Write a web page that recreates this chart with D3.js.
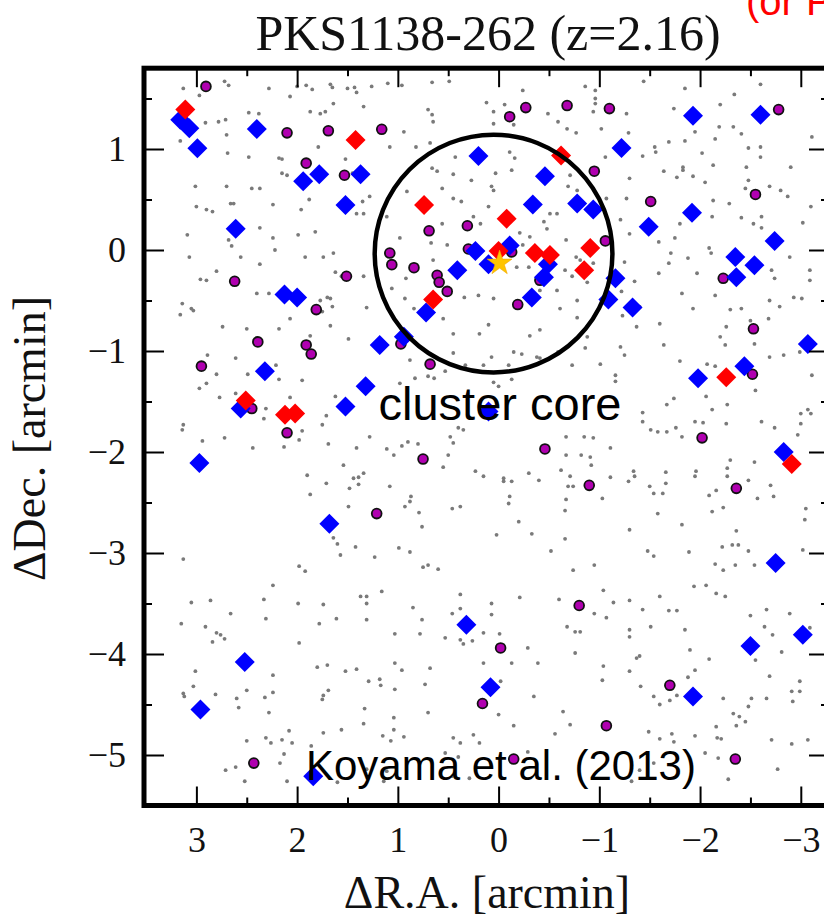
<!DOCTYPE html>
<html>
<head>
<meta charset="utf-8">
<script src="https://cdn.jsdelivr.net/npm/d3@7"></script>
<style>
  html, body { margin: 0; padding: 0; background: #fff; }
  svg { display: block; }
</style>
</head>
<body>
<svg id="chart" width="824" height="920"></svg>
<script>
// Offsets from the radio galaxy, [ΔR.A., ΔDec.] in arcmin.

// Faint field sources (small grey dots)
const fieldSources = [
  [3.13,1.60],[2.97,1.53],[2.72,1.67],[2.68,1.63],[2.28,1.60],[2.07,1.52],[2.00,1.62],[1.91,1.63],[1.85,1.59],[1.67,1.64],[1.65,1.61],[1.50,1.60],[1.43,1.61],[1.41,1.56],[1.26,1.62],[1.10,1.65],[0.96,1.63],[0.66,1.66],
  [1.87,1.37],[1.77,1.35],[1.72,1.37],[1.64,1.45],[1.34,1.42],[2.48,1.36],[2.38,1.35],[2.91,1.26],[2.78,1.27],[2.71,1.29],[2.70,1.14],[0.70,1.39],[0.66,1.34],[0.65,1.27],[0.94,1.17],
  [3.16,1.08],[2.69,0.96],[2.48,0.92],[2.18,0.91],[2.15,0.90],[1.79,1.02],[1.52,0.90],[1.08,1.02],[0.82,1.02],[0.68,1.06],
  [3.01,0.63],[2.70,0.63],[2.45,0.61],[2.37,0.61],[2.15,0.76],[2.10,0.74],[1.75,0.77],[1.45,0.76],[0.66,0.81],[0.61,0.78],
  [3.00,0.43],[2.90,0.40],[2.84,0.38],[2.66,0.46],[2.63,0.46],[2.24,0.45],[1.96,0.40],[1.88,0.50],[1.35,0.48],[1.28,0.53],[1.41,0.36],[1.34,0.36],[1.11,0.33],[0.91,0.58],
  [3.09,0.15],[2.68,0.10],[2.65,0.04],[2.37,0.22],[2.24,0.12],[2.22,0.00],[1.99,0.15],[1.82,0.18],[1.64,-0.03],[1.74,-0.07],[1.92,-0.07],[2.56,-0.07],[3.07,-0.07],[0.98,0.12],[0.67,0.07],
  [2.96,-0.29],[2.90,-0.30],[2.80,-0.21],[2.37,-0.14],[1.62,-0.22],[1.56,-0.26],[1.34,-0.26],[1.06,-0.38],[0.92,-0.28],[0.65,-0.10],
  [3.14,-0.53],[3.05,-0.58],[3.03,-0.60],[2.40,-0.43],[2.28,-0.43],[2.07,-0.68],[1.77,-0.50],[1.70,-0.47],[1.67,-0.48],[1.65,-0.56],[1.75,-0.61],[1.31,-0.57],[0.93,-0.48],[0.84,-0.58],[3.16,-0.64],[2.74,-0.76],[2.50,-0.78],[2.18,-0.78],[1.67,-0.75],[1.49,-0.88],[1.87,-0.85],
  [0.49,1.67],[-0.24,1.58],[0.12,1.46],[0.05,1.37],[-0.06,1.44],[0.05,1.25],[-0.15,1.24],[-0.49,1.35],[-0.59,1.27],[-0.68,1.20],[-0.77,1.16],[-0.86,1.62],[-0.96,1.58],[-0.96,1.50],[-0.96,1.45],[-0.94,1.37],[-1.27,1.35],[-1.02,1.20],[-1.29,1.16],[-1.44,1.67],[-1.85,1.60],[-1.74,1.40],[-1.95,1.17],[-2.20,1.44],[-2.34,1.54],[-2.33,1.22],[-2.19,1.22],[-2.41,1.15],[-2.60,1.64],[-3.11,1.12],
  [-1.69,1.07],[-1.85,1.08],[-1.55,1.02],[-1.56,0.97],[-1.43,0.93],[-2.02,0.96],[-2.15,1.10],[-2.48,1.01],[-2.60,1.02],[-2.60,0.92],[-2.46,0.82],[-2.90,0.82],[-1.64,0.78],[-1.77,0.72],[-1.83,0.82],[-1.83,0.79],[-1.93,0.73],[-2.05,0.67],[-2.13,0.84],[-2.48,0.69],[-2.45,0.61],[-2.69,0.63],[-2.80,0.59],[-2.87,0.53],[-3.10,0.43],[-2.13,0.49],[-2.29,0.46],[-2.61,0.33],[-2.41,0.32],[-2.53,0.26],[-2.61,0.22],[-3.02,0.27],[-2.12,0.33],[-1.80,0.26],[-1.59,0.08],[-1.75,0.12],[-1.71,-0.03],[-1.88,-0.08],[-2.09,0.02],[-2.11,-0.03],[-2.89,-0.07],[-2.71,-0.20],[-2.74,-0.28],[-3.09,-0.20],[-3.09,-0.30],[-1.69,-0.13],[-1.59,-0.23],[-1.97,-0.23],[-1.82,-0.43],[-1.93,-0.58],[-2.15,-0.45],[-2.30,-0.59],[-2.41,-0.58],[-2.69,-0.50],[-2.79,-0.56],[-2.93,-0.47],[-3.01,-0.48],[-2.50,-0.70],[-2.68,-0.68],[-2.26,-0.76],[-2.20,-0.86],[-1.60,-0.73],[-1.37,-0.76],[-1.23,-0.65],[-1.40,-0.56],[-1.22,-0.41],[-1.35,-0.31],[-1.25,-0.12],[-1.07,0.12],[-1.30,0.16],[-1.21,0.30],[-1.27,0.51],[-1.07,0.51],[-1.30,0.71],[-1.06,0.92],
  [-0.71,0.74],[-0.69,0.63],[-0.78,0.59],[-0.58,0.36],[-0.51,0.36],[-0.45,0.28],[-0.48,0.21],[-0.67,0.10],[-0.77,-0.07],[-0.81,-0.10],[-0.94,-0.13],[-0.66,-0.20],[-0.73,-0.26],[-0.88,-0.32],[-0.78,-0.50],[-0.61,-0.58],[-0.41,-0.40],[-0.58,-0.40],[0.05,-0.48],[0.20,-0.45],[0.34,-0.47],[0.10,-0.74],[0.19,-0.83],[0.45,-0.83],[0.55,-0.68],[-0.31,-0.85],[-0.41,-0.79],[-0.78,-0.67],[-0.88,-0.86],[-0.18,-0.17],[-0.30,-0.17],[-0.31,0.13],[0.43,0.92],[-0.13,0.79],[0.03,0.76],[-0.11,0.97],[-0.16,0.91],[0.27,0.69],[0.45,0.75],[0.56,0.61],[0.07,0.63],[0.05,0.59],[0.45,0.51],[0.37,0.48],[0.10,0.43],[0.25,0.33],[0.18,0.26],[0.56,0.26],[0.51,0.05],[-0.21,0.17],[-0.24,0.05],
  [2.89,-1.04],[2.80,-1.23],[2.90,-1.32],[2.97,-1.37],[2.61,-1.07],[2.49,-1.23],[2.21,-1.14],[2.18,-1.28],[1.95,-1.29],[2.77,-1.46],[2.61,-1.42],[2.31,-1.57],[2.33,-1.67],[2.07,-1.46],[3.13,-1.73],[3.14,-1.78],[2.94,-1.89],[2.72,-1.86],[2.44,-1.96],[2.13,-1.95],[1.98,-1.88],[1.95,-1.79],[1.71,-1.64],[1.62,-1.45],[1.75,-1.73],[1.69,-1.92],[1.41,-1.96],[1.28,-1.85],[0.98,-1.32],[1.11,-1.97],[1.04,-2.03],[0.96,-1.94],[0.90,-1.90],[0.80,-1.92],[1.90,-2.23],[1.87,-2.42],[1.71,-2.31],[1.54,-2.13],[1.44,-2.26],[1.39,-2.25],[1.39,-2.32],[1.48,-2.36],[1.34,-2.21],[1.49,-2.54],[1.08,-2.34],[0.87,-2.44],[0.93,-2.54],[0.88,-2.49],[0.79,-2.60],[0.76,-2.74],[1.64,-2.85],[1.60,-2.91],[1.57,-3.02],[1.42,-2.94],[1.23,-3.04],[0.99,-2.95],[0.88,-2.99],[0.75,-3.14],[0.70,-3.12],[0.60,-3.16],[3.13,-3.06],[1.98,-3.13],[1.92,-3.18],[0.70,-1.25],[0.64,-1.27],[0.83,-1.27],[0.88,-1.09],
  [0.45,-1.02],[0.07,-1.06],[-0.15,-1.01],[-0.23,-1.03],[-0.38,-1.06],[-0.41,-1.07],[-0.59,-1.01],[-0.86,-0.97],[-1.21,-0.96],[-1.25,-1.04],[-1.64,-0.94],[-1.80,-1.10],[-2.07,-1.13],[-2.15,-1.15],[-2.25,-0.94],[-2.54,-0.93],[-2.69,-1.06],[-2.83,-1.04],[-2.99,-1.01],[-0.73,-1.14],[-1.01,-1.13],[-1.16,-1.24],[-1.16,-1.30],[0.33,-1.14],[0.15,-1.14],[-0.10,-1.14],[0.53,-1.20],[0.05,-1.31],[0.00,-1.35],[-0.13,-1.28],[0.40,-1.76],[0.35,-1.78],[0.48,-1.85],[0.45,-1.91],[0.50,-2.03],[0.55,-2.15],[0.23,-2.19],[0.15,-2.24],[-0.05,-2.26],[-0.05,-2.29],[-0.13,-2.29],[-0.30,-2.21],[-0.40,-2.28],[-0.11,-2.44],[-0.10,-2.51],[-0.20,-2.69],[0.02,-2.82],[-0.33,-2.81],[0.46,-2.56],[0.38,-2.54],
  [-0.67,-1.85],[-0.67,-2.03],[-0.67,-2.47],[-0.66,-2.58],[-0.85,-1.85],[-0.94,-1.86],[-0.82,-2.03],[-0.91,-2.05],[-0.92,-2.13],[-0.69,-2.34],[-0.74,-2.34],[-0.62,-2.18],[-0.71,-2.24],[-1.03,-2.46],[-1.11,-1.96],[-1.11,-2.25],[-1.29,-2.29],[-1.34,-2.19],[-1.35,-2.24],[-1.50,-2.34],[-1.54,-2.41],[-1.63,-2.41],[-1.66,-2.20],[-1.66,-2.31],[-1.58,-2.61],[-1.30,-2.77],[-0.66,-2.86],[-0.52,-2.98],[-0.95,-3.12],[-0.74,-3.17],[-1.48,-2.98],[-1.54,-3.03],[-1.89,-2.99],
  [-1.43,-1.61],[-1.43,-1.70],[-1.51,-1.78],[-1.58,-1.80],[-1.67,-1.80],[-1.76,-1.76],[-1.82,-1.85],[-1.67,-1.53],[-1.74,-1.47],[-1.95,-1.70],[-2.03,-1.71],[-2.12,-1.58],[-2.06,-1.45],[-2.27,-1.53],[-2.26,-1.72],[-2.55,-1.39],[-2.61,-1.70],[-2.74,-1.76],[-3.00,-1.62],[-3.07,-1.58],[-3.10,-1.62],[-3.00,-1.72],[-2.97,-1.83],[-3.11,-1.24],[-2.30,-2.08],[-2.27,-2.16],[-2.27,-2.24],[-2.16,-2.38],[-2.09,-2.43],[-1.96,-2.19],[-1.95,-2.24],[-2.48,-2.28],[-2.54,-2.10],[-2.70,-2.33],[-2.73,-2.44],[-2.57,-2.46],[-2.23,-2.55],[-2.12,-2.59],[-1.82,-2.72],[-2.36,-2.78],[-2.38,-2.92],[-2.48,-2.98],[-2.22,-2.94],[-2.32,-2.92],[-2.54,-3.12],[-2.35,-3.12],[-2.23,-3.17],[-2.15,-3.11],[-3.05,-2.56],[-3.04,-2.67],[-3.02,-2.97],
  [3.05,-3.49],[2.86,-3.47],[2.66,-3.60],[2.33,-3.46],[2.24,-3.32],[2.31,-3.65],[1.99,-3.50],[1.78,-3.70],[1.74,-3.51],[3.15,-3.70],[2.91,-3.73],[2.80,-3.79],[2.76,-3.81],[2.72,-3.85],[2.84,-3.88],[1.98,-3.89],[1.61,-3.65],[1.31,-3.66],[1.37,-3.43],[1.31,-3.43],[1.31,-3.50],[1.16,-3.38],[0.85,-3.54],[0.76,-3.66],[0.78,-3.80],[1.03,-3.80],[3.01,-4.17],[3.03,-4.32],[3.13,-4.39],[3.12,-4.42],[2.81,-4.40],[2.60,-4.44],[2.58,-4.53],[2.50,-4.36],[2.24,-4.21],[2.24,-4.38],[2.32,-4.43],[2.28,-4.58],[1.80,-4.13],[1.70,-4.11],[1.52,-4.17],[1.41,-4.15],[1.75,-4.45],[1.74,-4.41],[1.69,-4.36],[1.29,-4.27],[1.18,-4.25],[1.17,-4.31],[1.33,-4.54],[1.34,-4.69],[1.03,-4.09],[0.96,-4.16],[1.03,-4.35],[0.68,-4.14],[0.73,-4.30],[0.70,-4.58],[1.04,-4.63],[1.04,-4.75],[1.56,-4.75],[1.74,-4.78],[2.50,-4.86],[2.31,-4.83],[2.26,-4.88],[2.15,-4.85],[2.05,-4.88],[2.08,-4.76],[2.71,-5.15],[2.61,-5.12],[2.52,-5.26],[2.17,-5.08],[2.13,-4.99],[2.10,-5.26],[1.86,-4.91],[1.60,-5.27],[1.14,-5.26],[1.11,-5.16],[1.15,-4.81],[1.07,-4.86],[0.94,-4.82],[1.31,-5.14],
  [0.38,-3.41],[-0.21,-3.44],[0.07,-3.50],[0.07,-3.61],[0.38,-3.55],[0.46,-3.60],[0.53,-3.84],[0.38,-3.86],[0.35,-3.90],[0.26,-3.87],[0.15,-3.79],[-0.01,-3.80],[-0.29,-3.94],[0.15,-4.09],[-0.13,-4.09],[-0.39,-4.09],[-0.02,-4.27],[-0.35,-4.42],[0.00,-4.60],[-0.15,-4.71],[-0.60,-3.46],[-0.68,-3.73],[-0.76,-3.78],[-0.81,-3.78],[-1.04,-3.37],[-1.14,-3.49],[-1.30,-3.47],[-1.43,-3.56],[-1.60,-3.43],[-1.69,-3.57],[-1.77,-3.57],[-1.94,-3.33],[-2.06,-3.32],[-2.16,-3.40],[-2.25,-3.43],[-0.95,-3.60],[-1.07,-3.64],[-1.51,-3.73],[-1.30,-3.76],[-1.30,-3.83],[-1.85,-3.76],[-0.76,-3.99],[-1.04,-4.12],[-1.03,-4.26],[-1.30,-4.17],[-1.40,-4.02],[-1.37,-4.04],[-1.41,-4.32],[-1.54,-4.42],[-1.60,-4.50],[-1.70,-4.46],[-1.77,-4.41],[-1.90,-3.96],[-1.95,-4.16],[-1.88,-4.23],[-2.09,-4.05],[-2.23,-4.44],[-2.50,-3.62],[-2.66,-3.56],[-2.89,-3.60],[-3.09,-3.74],[-2.64,-3.73],[-2.72,-3.81],[-2.81,-3.98],[-2.55,-4.06],[-2.69,-4.22],[-2.99,-4.27],[-2.99,-4.37],[-2.91,-4.37],[-2.51,-4.44],[-2.66,-4.44],[-2.48,-4.52],[-2.92,-4.47],[-2.33,-4.59],[-2.39,-4.62],[-2.45,-4.67],[-2.36,-4.71],[-2.16,-4.72],[-2.17,-4.83],[-2.21,-4.84],[-1.95,-4.81],[-1.72,-4.79],[-1.74,-4.87],[-1.49,-4.77],[-1.60,-4.84],[-2.71,-4.85],[-2.91,-4.89],[-3.07,-4.85],[-0.64,-4.57],[-0.71,-4.70],[-0.56,-4.79],[0.45,-4.83],[0.25,-4.80],[0.19,-4.88],[0.38,-4.88],[0.53,-4.98],[0.40,-5.02],[-0.29,-4.97],[-2.28,-5.24],[-2.77,-5.14],[-2.05,-4.98],[-2.18,-5.03],[-1.40,-5.15],[-1.32,-5.26],[-1.54,-5.08],[0.29,-5.23],[0.46,-5.21]
];

// Blue diamonds
const blueSources = [
  [3.16,1.29],[3.07,1.205],[2.99,1.007],[2.40,1.198],[1.94,0.68],[1.78,0.75],[1.37,0.75],[1.52,0.445],[2.61,0.21],[2.125,-0.44],[2.00,-0.47],[0.41,-0.20],[0.72,-0.62],[1.18,-0.94],[0.94,-0.86],
  [0.20,0.93],[-0.46,0.73],[-1.22,1.01],[-1.93,1.33],[-2.60,1.34],[-0.34,0.45],[-0.78,0.46],[-0.94,0.40],[-1.49,0.23],[-1.92,0.37],[-2.74,0.09],[0.23,-0.01],[-0.11,0.045],[0.10,-0.14],[-0.49,-0.14],[-0.45,-0.27],[-1.16,-0.28],[-2.35,-0.07],[-2.54,-0.15],[-2.36,-0.27],[-0.33,-0.47],[-1.09,-0.49],[-1.33,-0.57],[-3.07,-0.93],[-2.44,-1.15],
  [2.32,-1.20],[2.56,-1.57],[1.52,-1.55],[1.32,-1.35],[2.97,-2.11],[1.68,-2.71],
  [-1.98,-1.27],[-2.83,-2.00],[-2.75,-3.10],[0.10,-1.60],
  [2.52,-4.08],[2.96,-4.55],[1.84,-5.21],
  [0.32,-3.71],[0.08,-4.33],[-1.93,-4.42],[-2.50,-3.92],[-3.02,-3.81]
];

// Red diamonds
const redSources = [
  [3.11,1.39],[1.42,1.09],[0.74,0.445],[0.65,-0.49],[-0.62,0.935],[-0.08,0.31],[0.00,-0.01],[-0.36,-0.03],[-0.51,-0.05],[-0.91,0.02],[-0.85,-0.20],[2.51,-1.49],[2.12,-1.63],[2.02,-1.62],[-2.26,-1.26],[-2.91,-2.12]
];

// Purple circles
const purpleSources = [
  [2.905,1.62],[2.10,1.16],[1.69,1.18],[1.16,1.195],[1.91,0.86],[1.53,0.74],[0.69,0.19],[1.08,-0.03],[1.06,-0.145],[0.84,-0.175],[0.61,-0.25],[0.59,-0.32],[0.51,-0.41],[2.62,-0.31],[1.51,-0.26],[1.81,-0.59],[2.39,-0.91],[1.91,-0.94],[1.86,-1.03],[0.97,-0.93],
  [-0.27,1.41],[-0.68,1.43],[-1.10,1.40],[-0.11,1.32],[-2.78,1.39],[-0.95,0.78],[-1.51,0.48],[-2.55,0.55],[0.31,0.24],[-1.06,0.09],[-2.23,-0.28],[-0.19,-0.54],[-2.53,-0.78],[-0.13,-0.02],[-0.41,-0.30],[0.30,0.01],
  [2.95,-1.15],[2.45,-1.57],[2.10,-1.81],[0.75,-2.07],[1.21,-2.61],[0.68,-1.13],
  [-0.46,-1.97],[-0.90,-2.33],[-2.02,-1.86],[-2.36,-2.36],[-2.52,-1.23],
  [2.43,-5.08],
  [-0.80,-3.52],[-0.02,-3.94],[0.16,-4.49],[-1.70,-4.31],[-1.07,-4.71],[-0.15,-5.04],[-2.35,-5.04]
];

// Radio galaxy PKS1138-262
const radioGalaxy = [[-0.01,-0.13]];

// Cluster core: centre [ΔR.A., ΔDec.] and radius (arcmin)
const coreCentre = [0.05, -0.035];
const coreRadius = [1.18];

const xTickValues = [3, 2, 1, 0, -1, -2, -3];
const xMinorValues = [2.5, 1.5, 0.5, -0.5, -1.5, -2.5];
const yTickValues = [1, 0, -1, -2, -3, -4, -5];
const yMinorValues = [1.5, 0.5, -0.5, -1.5, -2.5, -3.5, -4.5];

const svg = d3.select("#chart");

const frameLeft = 144, frameRight = 829, frameTop = 68.2, frameBottom = 805.5;
const x = d3.scaleLinear().domain([3.52, -3.28]).range([frameLeft, frameRight]);
const y = d3.scaleLinear().domain([1.8, -5.5]).range([frameTop, frameBottom]);

const serif = "'Liberation Serif', 'Times New Roman', serif";
const sans = "'Liberation Sans', Arial, sans-serif";

// Title and the red note beside it (the note runs off the top-right edge)
svg.append("text")
  .attr("x", 488).attr("y", 50)
  .attr("text-anchor", "middle")
  .style("font-family", serif).style("font-size", "50px")
  .attr("fill", "#111")
  .text("PKS1138-262 (z=2.16)");

svg.append("text")
  .attr("x", 746).attr("y", 15)
  .style("font-family", sans).style("font-size", "40px")
  .attr("fill", "#ff0000")
  .text("(or P");

const plot = svg.append("g");

// Field sources
plot.append("g").selectAll("circle")
  .data(fieldSources).join("circle")
  .attr("cx", d => x(d[0])).attr("cy", d => y(d[1]))
  .attr("r", 1.9)
  .attr("fill", "#7a7a7a");

// Purple circles
plot.append("g").selectAll("circle")
  .data(purpleSources).join("circle")
  .attr("cx", d => x(d[0])).attr("cy", d => y(d[1]))
  .attr("r", 4.9)
  .attr("fill", "#b000b0")
  .attr("stroke", "#111").attr("stroke-width", 1.8);

const diamond = d3.symbol().type(d3.symbolSquare).size(200)();

// Blue diamonds
plot.append("g").selectAll("path")
  .data(blueSources).join("path")
  .attr("d", diamond)
  .attr("transform", d => `translate(${x(d[0])},${y(d[1])}) rotate(45)`)
  .attr("fill", "#0000ff");

// Red diamonds
plot.append("g").selectAll("path")
  .data(redSources).join("path")
  .attr("d", diamond)
  .attr("transform", d => `translate(${x(d[0])},${y(d[1])}) rotate(45)`)
  .attr("fill", "#ff0000");

// Cluster core circle
plot.append("circle")
  .attr("cx", x(coreCentre[0])).attr("cy", y(coreCentre[1]))
  .attr("r", x(0) - x(coreRadius[0]))
  .attr("fill", "none")
  .attr("stroke", "#000").attr("stroke-width", 4.5);

// Radio galaxy star
const star = d3.symbol().type(d3.symbolStar).size(190)();
plot.append("g").selectAll("path")
  .data(radioGalaxy).join("path")
  .attr("d", star)
  .attr("transform", d => `translate(${x(d[0])},${y(d[1])})`)
  .attr("fill", "#ffc400")
  .attr("stroke", "#f0a800").attr("stroke-width", 0.6);

// Annotations
svg.append("text")
  .attr("x", 500).attr("y", 420)
  .attr("text-anchor", "middle")
  .style("font-family", sans).style("font-size", "47px")
  .attr("fill", "#000")
  .text("cluster core");

svg.append("text")
  .attr("x", 306).attr("y", 780)
  .style("font-family", sans).style("font-size", "42px")
  .attr("fill", "#000")
  .text("Koyama et al. (2013)");

// Axes: ticks on all four sides, pointing inward
const fmt = d3.format("d");
function styleAxis(g, fontSize) {
  g.select(".domain").remove();
  g.selectAll(".tick line").attr("stroke", "#000").attr("stroke-width", 2);
  g.selectAll(".tick text")
    .attr("fill", "#111")
    .style("font-family", serif).style("font-size", fontSize);
}

svg.append("g").attr("transform", `translate(0,${frameBottom})`)
  .call(d3.axisBottom(x).tickValues(xTickValues).tickFormat(fmt).tickSizeInner(-19).tickSizeOuter(0).tickPadding(21))
  .call(g => styleAxis(g, "36px"));
svg.append("g").attr("transform", `translate(0,${frameBottom})`)
  .call(d3.axisBottom(x).tickValues(xMinorValues).tickFormat("").tickSizeInner(-8).tickSizeOuter(0))
  .call(g => styleAxis(g, "36px"));
svg.append("g").attr("transform", `translate(0,${frameTop})`)
  .call(d3.axisTop(x).tickValues(xTickValues).tickFormat("").tickSizeInner(-19).tickSizeOuter(0))
  .call(g => styleAxis(g, "36px"));
svg.append("g").attr("transform", `translate(0,${frameTop})`)
  .call(d3.axisTop(x).tickValues(xMinorValues).tickFormat("").tickSizeInner(-8).tickSizeOuter(0))
  .call(g => styleAxis(g, "36px"));

svg.append("g").attr("transform", `translate(${frameLeft},0)`)
  .call(d3.axisLeft(y).tickValues(yTickValues).tickFormat(fmt).tickSizeInner(-20).tickSizeOuter(0).tickPadding(18))
  .call(g => styleAxis(g, "36px"));
svg.append("g").attr("transform", `translate(${frameLeft},0)`)
  .call(d3.axisLeft(y).tickValues(yMinorValues).tickFormat("").tickSizeInner(-8).tickSizeOuter(0))
  .call(g => styleAxis(g, "36px"));
svg.append("g").attr("transform", `translate(${frameRight},0)`)
  .call(d3.axisRight(y).tickValues(yTickValues).tickFormat("").tickSizeInner(-20).tickSizeOuter(0))
  .call(g => styleAxis(g, "36px"));
svg.append("g").attr("transform", `translate(${frameRight},0)`)
  .call(d3.axisRight(y).tickValues(yMinorValues).tickFormat("").tickSizeInner(-8).tickSizeOuter(0))
  .call(g => styleAxis(g, "36px"));

// Plot frame
svg.append("rect")
  .attr("x", frameLeft).attr("y", frameTop)
  .attr("width", frameRight - frameLeft).attr("height", frameBottom - frameTop)
  .attr("fill", "none")
  .attr("stroke", "#000").attr("stroke-width", 5);

// Axis titles
svg.append("text")
  .attr("x", 487).attr("y", 908)
  .attr("text-anchor", "middle")
  .style("font-family", serif).style("font-size", "46px")
  .attr("fill", "#111")
  .text("ΔR.A. [arcmin]");

svg.append("text")
  .attr("transform", "rotate(-90)")
  .attr("x", -438.5).attr("y", 45)
  .attr("text-anchor", "middle")
  .style("font-family", serif).style("font-size", "46px")
  .attr("fill", "#111")
  .text("ΔDec. [arcmin]");
</script>
</body>
</html>
